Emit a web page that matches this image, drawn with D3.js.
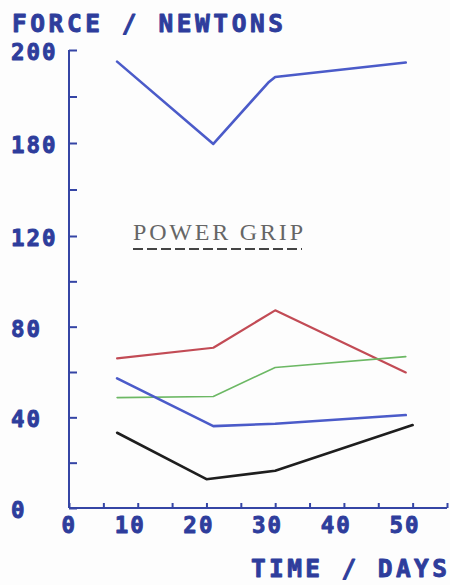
<!DOCTYPE html>
<html>
<head>
<meta charset="utf-8">
<script src="https://cdn.jsdelivr.net/npm/d3@7"></script>
<style>
  html, body { margin: 0; padding: 0; background: #fdfdfd; }
  svg { display: block; }
</style>
</head>
<body>
<svg id="chart" width="450" height="585"></svg>
<script>
// ---- data ----
const yTickValues = [0, 20, 40, 60, 80, 100, 120, 150, 180, 190, 200];
const yTickLabels = [0, 40, 80, 120, 180, 200];
const xTickValues = [0, 5, 10, 15, 20, 25, 30, 35, 40, 45, 50, 55];
const xTickLabels = [0, 10, 20, 30, 40, 50];

const topBlueDays = [7, 21, 29, 30, 49];
const topBlueForce = [197.5, 179.4, 193, 194.2, 197.3];

const redDays = [7, 21, 30, 49];
const redForce = [66, 70.7, 87.2, 59.8];

const greenDays = [7, 21, 30, 49];
const greenForce = [48.7, 49.2, 62, 66.8];

const blueDays = [7, 21, 30, 49];
const blueForce = [57.2, 36.1, 37.2, 41];

const blackDays = [7, 20, 30, 50];
const blackForce = [33.2, 12.7, 16.4, 36.6];

const seriesColors = ["#4b5bc9", "#c24b55", "#6cb864", "#4b5bc9", "#1e1e1e"];
const seriesWidths = [2.6, 2.2, 1.6, 2.6, 2.6];

const titleY = "FORCE / NEWTONS";
const titleX = "TIME / DAYS";
const annotation = "POWER GRIP";

// ---- drawing ----
const svg = d3.select("#chart");
const axisColor = "#3545a5";
const textColor = "#2e3d9c";

const x = d3.scaleLinear().domain([0, 55]).range([69, 447]);
// broken (hand-drawn) axis: piecewise linear
const y = d3.scaleLinear().domain([0, 120, 180, 200]).range([508, 236, 143, 50]);

const monoBold = "'DejaVu Sans Mono', 'Liberation Mono', monospace";

// axes
const yAxis = d3.axisRight(y).tickValues(yTickValues).tickSize(8).tickFormat("");
const gy = svg.append("g").attr("transform", `translate(${x(0)},0)`).call(yAxis);
gy.select(".domain").attr("d", `M0,${y(200)}V${y(0)}`);

const xAxis = d3.axisTop(x).tickValues(xTickValues).tickSize(5).tickFormat("");
const gx = svg.append("g").attr("transform", `translate(0,${y(0)})`).call(xAxis);
gx.select(".domain").attr("d", `M${x(0)},0H${x(55)}`);

[gx, gy].forEach(g => {
  g.selectAll("path, line").attr("stroke", axisColor).attr("stroke-width", 2);
});

function heavy(sel, size) {
  sel.attr("font-family", monoBold).attr("font-weight", "bold")
    .attr("font-size", size).attr("fill", textColor)
    .attr("stroke", textColor).attr("stroke-width", 0.9)
    .attr("stroke-linejoin", "round");
}

// y labels (left aligned)
svg.append("g").selectAll("text").data(yTickLabels).join("text")
  .attr("x", 11)
  .attr("y", d => y(d) + 10)
  .attr("letter-spacing", 2)
  .call(heavy, 22.5)
  .text(d => d);

// x labels
svg.append("g").selectAll("text").data(xTickLabels).join("text")
  .attr("x", d => x(d) + 8)
  .attr("y", 533)
  .attr("text-anchor", "end")
  .attr("letter-spacing", 2)
  .call(heavy, 22.5)
  .text(d => d);

// axis titles
svg.append("text")
  .attr("x", 12).attr("y", 31.5)
  .call(heavy, 24.5)
  .attr("textLength", 271).attr("lengthAdjust", "spacing")
  .text(titleY);

svg.append("text")
  .attr("x", 251).attr("y", 577)
  .call(heavy, 24.5)
  .attr("textLength", 196).attr("lengthAdjust", "spacing")
  .text(titleX);

// annotation
svg.append("text")
  .attr("x", 133).attr("y", 240)
  .attr("font-family", "'Liberation Serif', 'DejaVu Serif', serif")
  .attr("font-size", 24).attr("fill", "#666")
  .attr("textLength", 170).attr("lengthAdjust", "spacing")
  .text(annotation);
svg.append("line")
  .attr("x1", 133).attr("x2", 302).attr("y1", 249).attr("y2", 249)
  .attr("stroke", "#444").attr("stroke-width", 2)
  .attr("stroke-dasharray", "10,4");

// series
const series = [
  [topBlueDays, topBlueForce],
  [redDays, redForce],
  [greenDays, greenForce],
  [blueDays, blueForce],
  [blackDays, blackForce]
];
const line = d3.line().x(d => x(d[0])).y(d => y(d[1]));
svg.append("g").selectAll("path").data(series).join("path")
  .attr("d", s => line(d3.zip(s[0], s[1])))
  .attr("fill", "none")
  .attr("stroke", (s, i) => seriesColors[i])
  .attr("stroke-width", (s, i) => seriesWidths[i])
  .attr("stroke-linejoin", "round")
  .attr("stroke-linecap", "round");
</script>
</body>
</html>
